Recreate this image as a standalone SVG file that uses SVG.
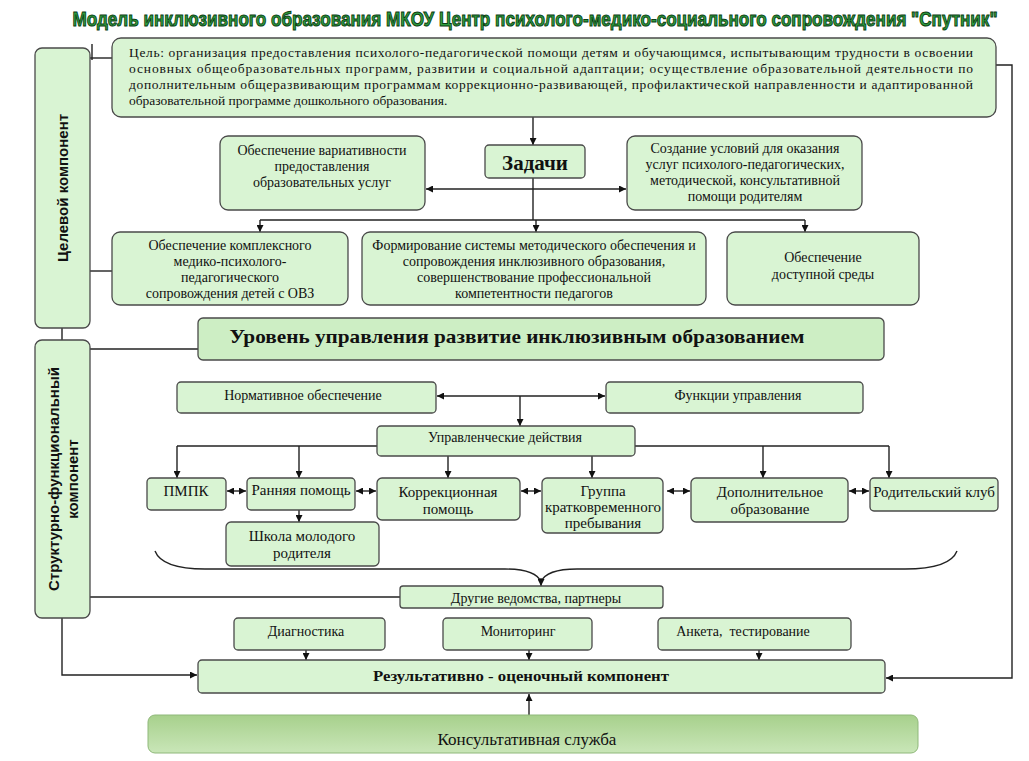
<svg xmlns="http://www.w3.org/2000/svg" width="1029" height="761" viewBox="0 0 1029 761">
<style>
.box{fill:#d9f4d3;stroke:#4a4a4a;stroke-width:1.3}
.lvl{fill:#cdeec4;stroke:#4a4a4a;stroke-width:1.3}
.t{font-family:"Liberation Serif","Times New Roman",serif;font-size:14px;fill:#111;text-anchor:middle}
.tl{font-family:"Liberation Serif","Times New Roman",serif;font-size:13.5px;fill:#111}
.m{font-size:15px}
.b{font-weight:bold}
.side{font-family:"Liberation Sans",Arial,sans-serif;font-size:15px;font-weight:bold;fill:#111;text-anchor:middle}
.ln{fill:none;stroke:#222;stroke-width:1.4}
.a{marker-end:url(#ah)}
.aa{marker-end:url(#ah);marker-start:url(#ah)}
.title{font-family:"Liberation Sans",Arial,sans-serif;font-size:16.5px;font-weight:bold;fill:#2f9e3f;stroke:#0b3d12;stroke-width:0.8px;text-anchor:middle}
</style>
<defs>
<marker id="ah" viewBox="0 0 10 10" refX="10" refY="5" markerWidth="7" markerHeight="7" markerUnits="userSpaceOnUse" orient="auto-start-reverse">
<path d="M0,0 L10,5 L0,10 z" fill="#111"/>
</marker>
<linearGradient id="kg" x1="0" y1="0" x2="0" y2="1">
<stop offset="0" stop-color="#a7d08c"/>
<stop offset="1" stop-color="#c9e6b8"/>
</linearGradient>
</defs>
<rect width="1029" height="761" fill="#fff"/>

<text class="title" transform="translate(535,26) scale(1,1.25)" x="0" y="0" textLength="925" lengthAdjust="spacingAndGlyphs">Модель инклюзивного образования МКОУ Центр психолого-медико-социального сопровождения "Спутник"</text>

<g id="connectors">
<line class="ln" x1="92" y1="44" x2="92" y2="60"/>
<line class="ln" x1="90" y1="58" x2="112" y2="58"/>
<polyline class="ln a" points="996,65 1012,65 1012,678 886,678"/>
<line class="ln a" x1="533" y1="117" x2="533" y2="145"/>
<line class="ln aa" x1="426" y1="189" x2="626" y2="189"/>
<line class="ln" x1="533" y1="178" x2="533" y2="220"/>
<line class="ln" x1="260" y1="220" x2="805" y2="220"/>
<line class="ln a" x1="260" y1="220" x2="260" y2="232"/>
<line class="ln a" x1="536" y1="220" x2="536" y2="232"/>
<line class="ln a" x1="805" y1="220" x2="805" y2="232"/>
<line class="ln" x1="90" y1="271" x2="112" y2="271"/>
<line class="ln" x1="62" y1="328" x2="62" y2="340"/>
<line class="ln" x1="90" y1="349" x2="198" y2="349"/>
<line class="ln aa" x1="437" y1="396" x2="605" y2="396"/>
<line class="ln a" x1="520" y1="396" x2="520" y2="426"/>
<line class="ln" x1="177" y1="446" x2="889" y2="446"/>
<line class="ln a" x1="177" y1="446" x2="177" y2="478"/>
<line class="ln a" x1="299" y1="446" x2="299" y2="478"/>
<line class="ln a" x1="448" y1="446" x2="448" y2="478"/>
<line class="ln a" x1="592" y1="446" x2="592" y2="478"/>
<line class="ln a" x1="763" y1="446" x2="763" y2="478"/>
<line class="ln a" x1="889" y1="446" x2="889" y2="478"/>
<line class="ln aa" x1="227" y1="491" x2="246" y2="491"/>
<line class="ln aa" x1="356" y1="491" x2="376" y2="491"/>
<line class="ln aa" x1="521" y1="491" x2="541" y2="491"/>
<line class="ln aa" x1="667" y1="491" x2="690" y2="491"/>
<line class="ln aa" x1="849" y1="491" x2="869" y2="491"/>
<line class="ln a" x1="299" y1="510" x2="299" y2="522"/>
<path class="ln" d="M155,551 Q162,569 205,569 L505,569 Q536,569 541,582 Q546,569 577,569 L905,569 Q950,569 957,551"/>
<line class="ln a" x1="541" y1="578" x2="541" y2="586"/>
<line class="ln" x1="90" y1="597" x2="400" y2="597"/>
<polyline class="ln a" points="62,618 62,675 197,675"/>
<line class="ln a" x1="306" y1="650" x2="306" y2="660"/>
<line class="ln a" x1="529" y1="650" x2="529" y2="660"/>
<line class="ln a" x1="759" y1="650" x2="759" y2="660"/>
<line class="ln a" x1="529" y1="715" x2="529" y2="694"/>
</g>

<g id="n-celevoy">
<rect class="box" x="35" y="48" width="55" height="280" rx="7"/>
<text class="side" transform="translate(68,188) rotate(-90)">Целевой компонент</text>
</g>
<g id="n-struct">
<rect class="box" x="35" y="340" width="55" height="278" rx="7"/>
<text class="side" transform="translate(59,479) rotate(-90)">Структурно-функциональный</text>
<text class="side" transform="translate(78,479) rotate(-90)">компонент</text>
</g>

<g id="n-goal">
<rect class="box" x="112" y="38" width="884" height="79" rx="9"/>
<text class="tl" x="129" y="57" textLength="844" lengthAdjust="spacing">Цель: организация предоставления психолого-педагогической помощи детям и обучающимся, испытывающим трудности в освоении</text>
<text class="tl" x="129" y="73" textLength="844" lengthAdjust="spacing">основных общеобразовательных программ, развитии и социальной адаптации; осуществление образовательной деятельности по</text>
<text class="tl" x="129" y="89" textLength="844" lengthAdjust="spacing">дополнительным общеразвивающим программам коррекционно-развивающей, профилактической направленности и адаптированной</text>
<text class="tl" x="129" y="105">образовательной программе дошкольного образования.</text>
</g>

<g id="n-zadachi">
<rect class="box" x="485" y="145" width="100" height="33" rx="4"/>
<text class="t b" x="535" y="170" style="font-size:21px">Задачи</text>
</g>
<g id="n-var">
<rect class="box" x="220" y="136" width="205" height="74" rx="8"/>
<text class="t" x="322" y="155">Обеспечение вариативности</text>
<text class="t" x="322" y="171">предоставления</text>
<text class="t" x="322" y="187">образовательных услуг</text>
</g>
<g id="n-usl">
<rect class="box" x="627" y="136" width="235" height="74" rx="8"/>
<text class="t" x="745" y="153">Создание условий для оказания</text>
<text class="t" x="745" y="169">услуг психолого-педагогических,</text>
<text class="t" x="745" y="185">методической, консультативной</text>
<text class="t" x="745" y="201">помощи родителям</text>
</g>
<g id="n-kompl">
<rect class="box" x="112" y="232" width="236" height="73" rx="8"/>
<text class="t" x="230" y="250">Обеспечение комплексного</text>
<text class="t" x="230" y="266">медико-психолого-</text>
<text class="t" x="230" y="282">педагогического</text>
<text class="t" x="230" y="298">сопровождения детей с ОВЗ</text>
</g>
<g id="n-form">
<rect class="box" x="362" y="232" width="344" height="73" rx="8"/>
<text class="t" x="534" y="250">Формирование системы методического обеспечения и</text>
<text class="t" x="534" y="266">сопровождения инклюзивного образования,</text>
<text class="t" x="534" y="282">совершенствование профессиональной</text>
<text class="t" x="534" y="298">компетентности педагогов</text>
</g>
<g id="n-sreda">
<rect class="box" x="727" y="232" width="192" height="73" rx="8"/>
<text class="t" x="823" y="262">Обеспечение</text>
<text class="t" x="823" y="279">доступной среды</text>
</g>

<g id="n-uroven">
<rect class="lvl" x="198" y="318" width="686" height="42" rx="5"/>
<text class="t b" x="517" y="343" style="font-size:19px" textLength="575" lengthAdjust="spacingAndGlyphs">Уровень управления развитие инклюзивным образованием</text>
</g>
<g id="n-norm">
<rect class="box" x="177" y="382" width="259" height="31" rx="4"/>
<text class="t" x="303" y="400">Нормативное обеспечение</text>
</g>
<g id="n-func">
<rect class="box" x="606" y="382" width="257" height="31" rx="4"/>
<text class="t" x="738" y="400">Функции управления</text>
</g>
<g id="n-upr">
<rect class="box" x="377" y="426" width="258" height="30" rx="4"/>
<text class="t" x="505" y="442">Управленческие действия</text>
</g>

<g id="n-pmpk">
<rect class="box" x="147" y="478" width="79" height="32" rx="4"/>
<text class="t m" x="186" y="496">ПМПК</text>
</g>
<g id="n-rannyaya">
<rect class="box" x="247" y="478" width="108" height="32" rx="4"/>
<text class="t m" x="301" y="495">Ранняя помощь</text>
</g>
<g id="n-shkola">
<rect class="box" x="226" y="522" width="153" height="44" rx="5"/>
<text class="t m" x="302" y="541">Школа молодого</text>
<text class="t m" x="302" y="558">родителя</text>
</g>
<g id="n-korr">
<rect class="box" x="377" y="478" width="143" height="42" rx="5"/>
<text class="t m" x="448" y="497">Коррекционная</text>
<text class="t m" x="448" y="514">помощь</text>
</g>
<g id="n-gruppa">
<rect class="box" x="542" y="478" width="121" height="55" rx="5"/>
<text class="t m" x="603" y="496">Группа</text>
<text class="t m" x="603" y="512">кратковременного</text>
<text class="t m" x="603" y="528">пребывания</text>
</g>
<g id="n-dop">
<rect class="box" x="691" y="478" width="157" height="44" rx="5"/>
<text class="t m" x="770" y="497">Дополнительное</text>
<text class="t m" x="770" y="514">образование</text>
</g>
<g id="n-klub">
<rect class="box" x="870" y="478" width="128" height="33" rx="4"/>
<text class="t m" x="934" y="497">Родительский клуб</text>
</g>

<g id="n-drugie">
<rect class="box" x="400" y="586" width="263" height="22" rx="3"/>
<text class="t" x="536" y="603">Другие ведомства, партнеры</text>
</g>
<g id="n-diag">
<rect class="box" x="234" y="618" width="151" height="32" rx="4"/>
<text class="t" x="306" y="636">Диагностика</text>
</g>
<g id="n-monit">
<rect class="box" x="443" y="618" width="149" height="32" rx="4"/>
<text class="t" x="518" y="636">Мониторинг</text>
</g>
<g id="n-anketa">
<rect class="box" x="658" y="618" width="193" height="32" rx="4"/>
<text class="t" x="743" y="636" xml:space="preserve">Анкета,  тестирование</text>
</g>
<g id="n-result">
<rect class="box" x="198" y="660" width="687" height="33" rx="4"/>
<text class="t b" x="521" y="681" style="font-size:15px" textLength="296" lengthAdjust="spacingAndGlyphs">Результативно - оценочный компонент</text>
</g>
<g id="n-konsult">
<rect x="148" y="715" width="770" height="38" rx="7" fill="url(#kg)" stroke="#8fb87a" stroke-width="1"/>
<text class="t" x="527" y="745" style="font-size:17px">Консультативная служба</text>
</g>
</svg>
